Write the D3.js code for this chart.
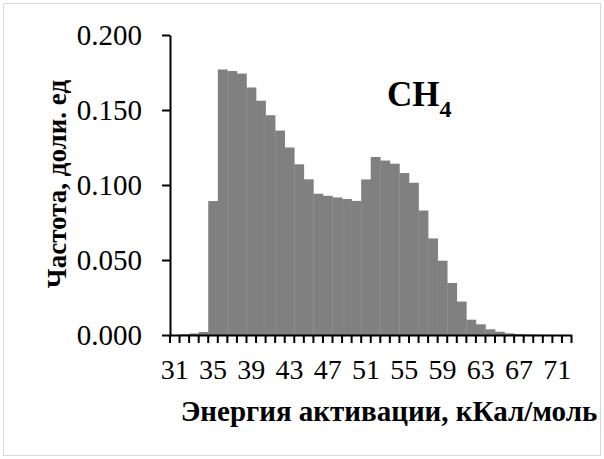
<!DOCTYPE html>
<html>
<head>
<meta charset="utf-8">
<script src="https://cdn.jsdelivr.net/npm/d3@7"></script>
<style>
  body { margin: 0; background: #fff; }
  text { font-family: "Liberation Serif", "Times New Roman", serif; fill: #000; }
</style>
</head>
<body>
<div id="chart"></div>
<script>
// Activation energy categories, kcal/mol
const energies = [31, 32, 33, 34, 35, 36, 37, 38, 39, 40, 41, 42, 43, 44, 45, 46, 47, 48, 49, 50,
                  51, 52, 53, 54, 55, 56, 57, 58, 59, 60, 61, 62, 63, 64, 65, 66, 67, 68, 69, 70, 71, 72];
// Frequency, fraction
const frequency = [0.0000, 0.0005, 0.0010, 0.0020, 0.0893, 0.1770, 0.1760, 0.1743, 0.1650, 0.1562,
                   0.1465, 0.1363, 0.1250, 0.1138, 0.1038, 0.0942, 0.0928, 0.0917, 0.0907, 0.0894,
                   0.1037, 0.1187, 0.1163, 0.1142, 0.1080, 0.1015, 0.0830, 0.0644, 0.0495, 0.0347,
                   0.0223, 0.0102, 0.0071, 0.0038, 0.0022, 0.0011, 0.0007, 0.0004, 0.0002, 0.0001,
                   0.0000, 0.0000];
const yTicks = [0, 0.05, 0.1, 0.15, 0.2];
const xLabelTicks = [31, 35, 39, 43, 47, 51, 55, 59, 63, 67, 71];

const width = 604, height = 459;
const margin = { top: 35, right: 32.5, bottom: 124, left: 170 };

const svg = d3.select("#chart").append("svg")
    .attr("width", width)
    .attr("height", height);

// light chart frame
svg.append("rect")
    .attr("x", 3.5).attr("y", 3.5)
    .attr("width", width - 7).attr("height", height - 7)
    .attr("fill", "none")
    .attr("stroke", "#d9d9d9");

const x = d3.scaleBand()
    .domain(energies)
    .range([margin.left, width - margin.right])
    .padding(0);

const y = d3.scaleLinear()
    .domain([0, 0.2])
    .range([height - margin.bottom, margin.top]);

// bars
svg.append("g")
    .selectAll("rect")
    .data(energies)
    .join("rect")
    .attr("x", d => x(d))
    .attr("width", x.bandwidth() + 0.3)
    .attr("y", (d, i) => y(frequency[i]))
    .attr("height", (d, i) => y(0) - y(frequency[i]))
    .attr("fill", "#808080");

// y axis
const yAxis = svg.append("g")
    .attr("transform", `translate(${margin.left},0)`)
    .call(d3.axisLeft(y)
        .tickValues(yTicks)
        .tickFormat(d3.format(".3f"))
        .tickSize(8)
        .tickSizeOuter(0)
        .tickPadding(20));
yAxis.select(".domain").attr("stroke", "#000").attr("stroke-width", 2);
yAxis.selectAll(".tick line").attr("stroke", "#000").attr("stroke-width", 2);
yAxis.selectAll(".tick text")
    .style("font-family", "Liberation Serif")
    .style("font-size", "29px");

// x axis: labels every 4th category
const xAxis = svg.append("g")
    .attr("transform", `translate(0,${y(0)})`)
    .call(d3.axisBottom(x)
        .tickValues(xLabelTicks)
        .tickSize(0)
        .tickSizeOuter(0)
        .tickPadding(24));
xAxis.select(".domain").attr("stroke", "#000").attr("stroke-width", 2);
xAxis.selectAll(".tick text")
    .style("font-family", "Liberation Serif")
    .style("font-size", "28px");

// tick marks between categories
const bounds = energies.map(d => x(d)).concat([x(energies[energies.length - 1]) + x.bandwidth()]);
xAxis.selectAll(".cat-tick")
    .data(bounds)
    .join("line")
    .attr("class", "cat-tick")
    .attr("x1", d => d).attr("x2", d => d)
    .attr("y1", 0).attr("y2", 8)
    .attr("stroke", "#000")
    .attr("stroke-width", 2);

// axis titles
svg.append("text")
    .attr("x", 389)
    .attr("y", 421)
    .attr("text-anchor", "middle")
    .style("font-weight", "bold")
    .style("font-size", "29px")
    .text("Энергия активации, кКал/моль");

svg.append("text")
    .attr("transform", "translate(66,184) rotate(-90)")
    .attr("text-anchor", "middle")
    .style("font-weight", "bold")
    .style("font-size", "27px")
    .text("Частота, доли. ед");

// series annotation
const ann = svg.append("text")
    .attr("x", 387)
    .attr("y", 106)
    .style("font-weight", "bold")
    .style("font-size", "35px");
ann.append("tspan").text("CH");
ann.append("tspan").attr("dy", 11).style("font-size", "24px").text("4");
</script>
</body>
</html>
